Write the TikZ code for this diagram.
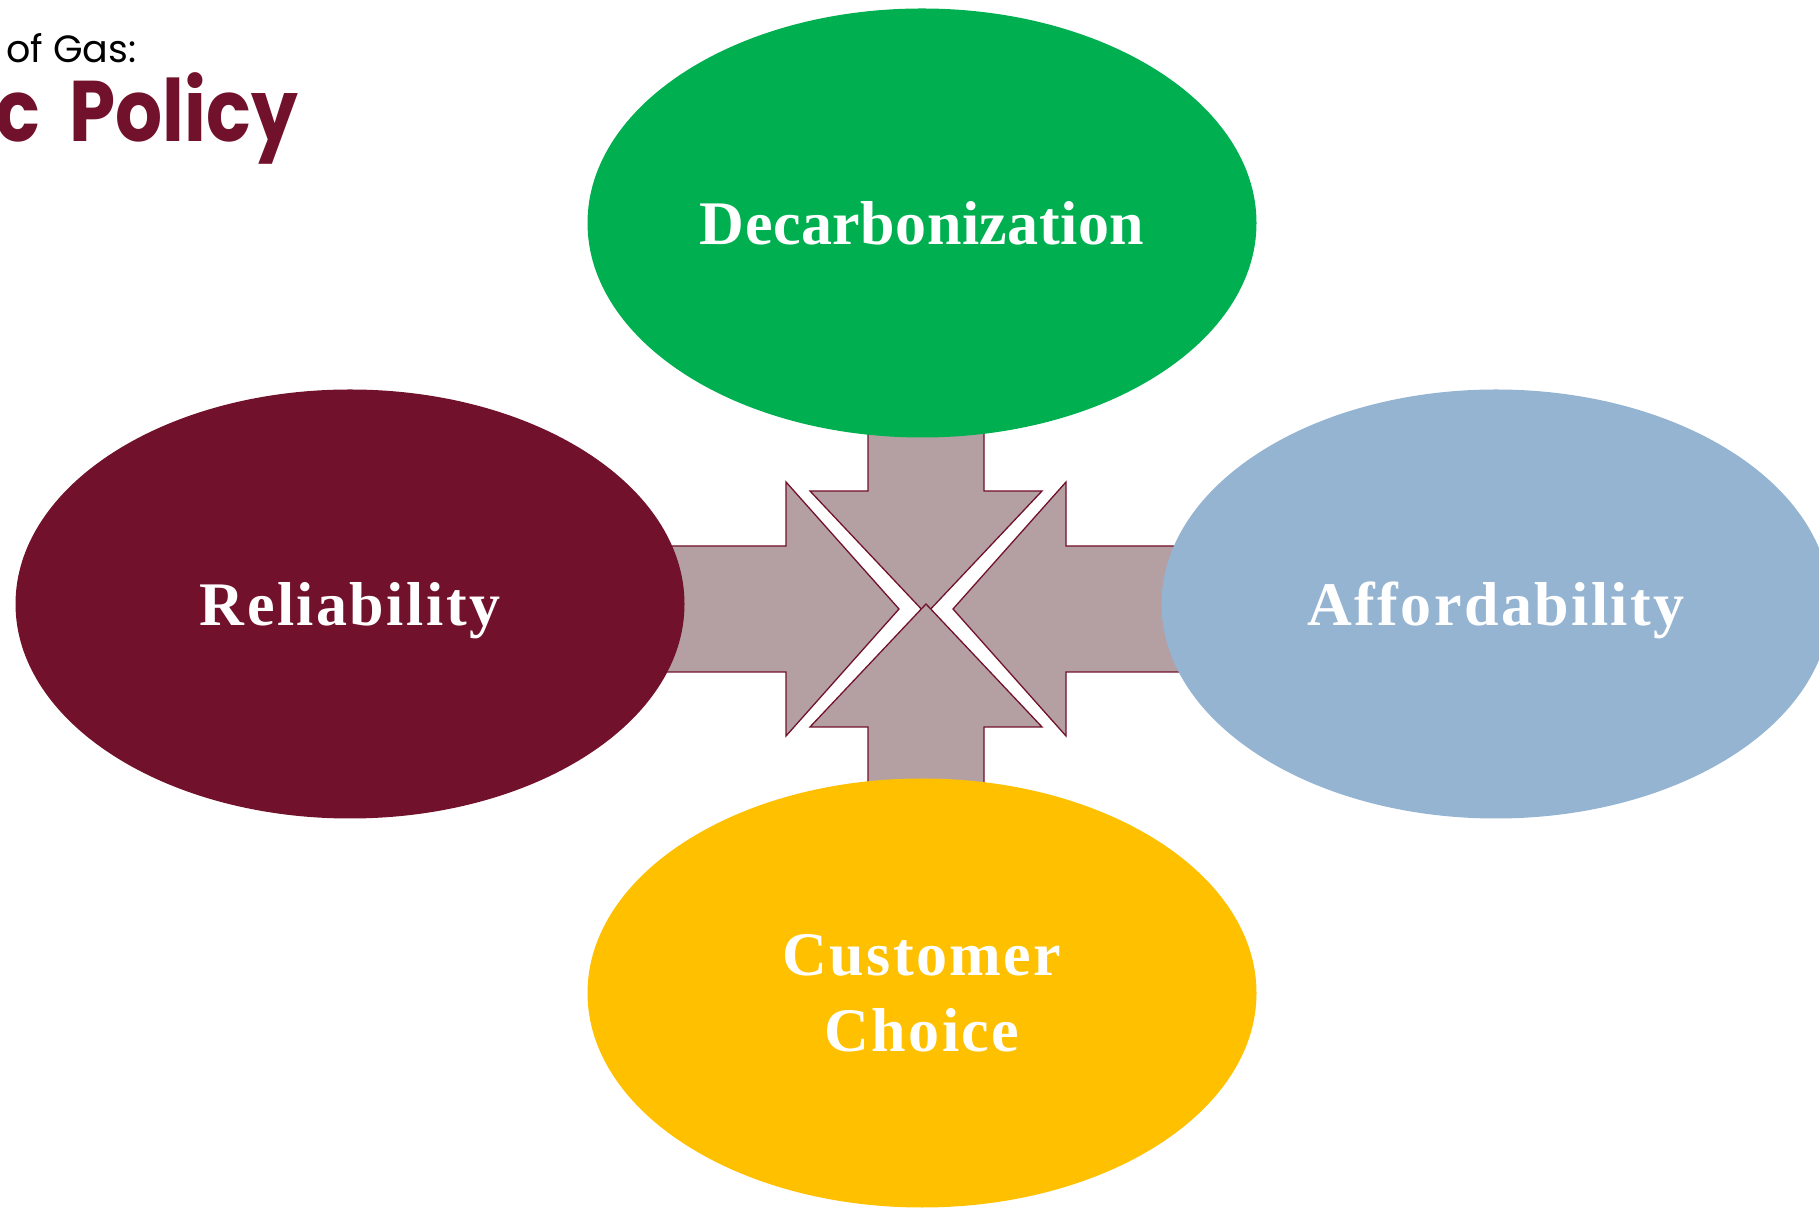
\documentclass[tikz,border=0pt]{standalone}
\usepackage{fontspec}
\setmainfont{Liberation Serif}
\newfontfamily\headfont{Poppins}
\newfontfamily\headnarrow[FakeStretch=0.86]{Poppins}
\usetikzlibrary{shapes.geometric}
\usetikzlibrary{positioning}

\definecolor{wine}{RGB}{114,17,43}
\definecolor{leafgreen}{RGB}{0,176,80}
\definecolor{skyblue}{RGB}{149,180,210}
\definecolor{amber}{RGB}{255,192,0}
\definecolor{mauve}{RGB}{180,160,162}

\begin{document}
\begin{tikzpicture}[x=1pt,y=1pt]

	\tikzset{PetalStyle/.style = {shape = ellipse,
			inner sep = 0pt,
			minimum width = 669pt,
			minimum height = 429pt,
			align = center,
			text = white,
			font = \bfseries\fontsize{62}{76}\selectfont\addfontfeatures{LetterSpace=4}}}

	\tikzset{ArrowStyle/.style = {fill = mauve, draw = wine, line width = 1.3pt}}

	\useasboundingbox (0,0) rectangle (1819,1207);
	\clip (0,0) rectangle (1819,1207);

	% heading of the slide, running off the left edge
	\node[anchor=base west, inner sep=0pt, font=\headfont\fontsize{38}{44}\selectfont] (sub) at (6,1144) {of Gas:};
	\node[anchor=base east, inner sep=0pt, text=wine, font=\headnarrow\bfseries\fontsize{86}{100}\selectfont] (head) at (298,1065) {c\hspace{13pt} Policy};

	\coordinate (hub) at (926,598);

	% block arrows pointing in to the hub
	\begin{scope}[shift={(hub)}]
		\draw[ArrowStyle] (-58,260) -- (58,260) -- (58,118) -- (116,118) -- (0,-5) -- (-116,118) -- (-58,118) -- cycle;
		\draw[ArrowStyle] (-300,63) -- (-140,63) -- (-140,127) -- (-27,0) -- (-140,-127) -- (-140,-63) -- (-300,-63) -- cycle;
		\draw[ArrowStyle] (300,63) -- (140,63) -- (140,127) -- (27,0) -- (140,-127) -- (140,-63) -- (300,-63) -- cycle;
		\draw[ArrowStyle] (-58,-260) -- (58,-260) -- (58,-118) -- (116,-118) -- (0,5) -- (-116,-118) -- (-58,-118) -- cycle;
	\end{scope}

	\node[PetalStyle, fill=leafgreen, font=\bfseries\fontsize{62}{76}\selectfont\addfontfeatures{LetterSpace=0.8}] (decarb) at (922,984) {Decarbonization};
	\node[PetalStyle, fill=wine, text depth=0pt] (reliab) at (350,603) {Reliability};
	\node[PetalStyle, fill=skyblue, text depth=0pt] (afford) at (1496,603) {Affordability};
	\node[PetalStyle, fill=amber] (choice) at (922,214) {Customer\\Choice};
\end{tikzpicture}
\end{document}
